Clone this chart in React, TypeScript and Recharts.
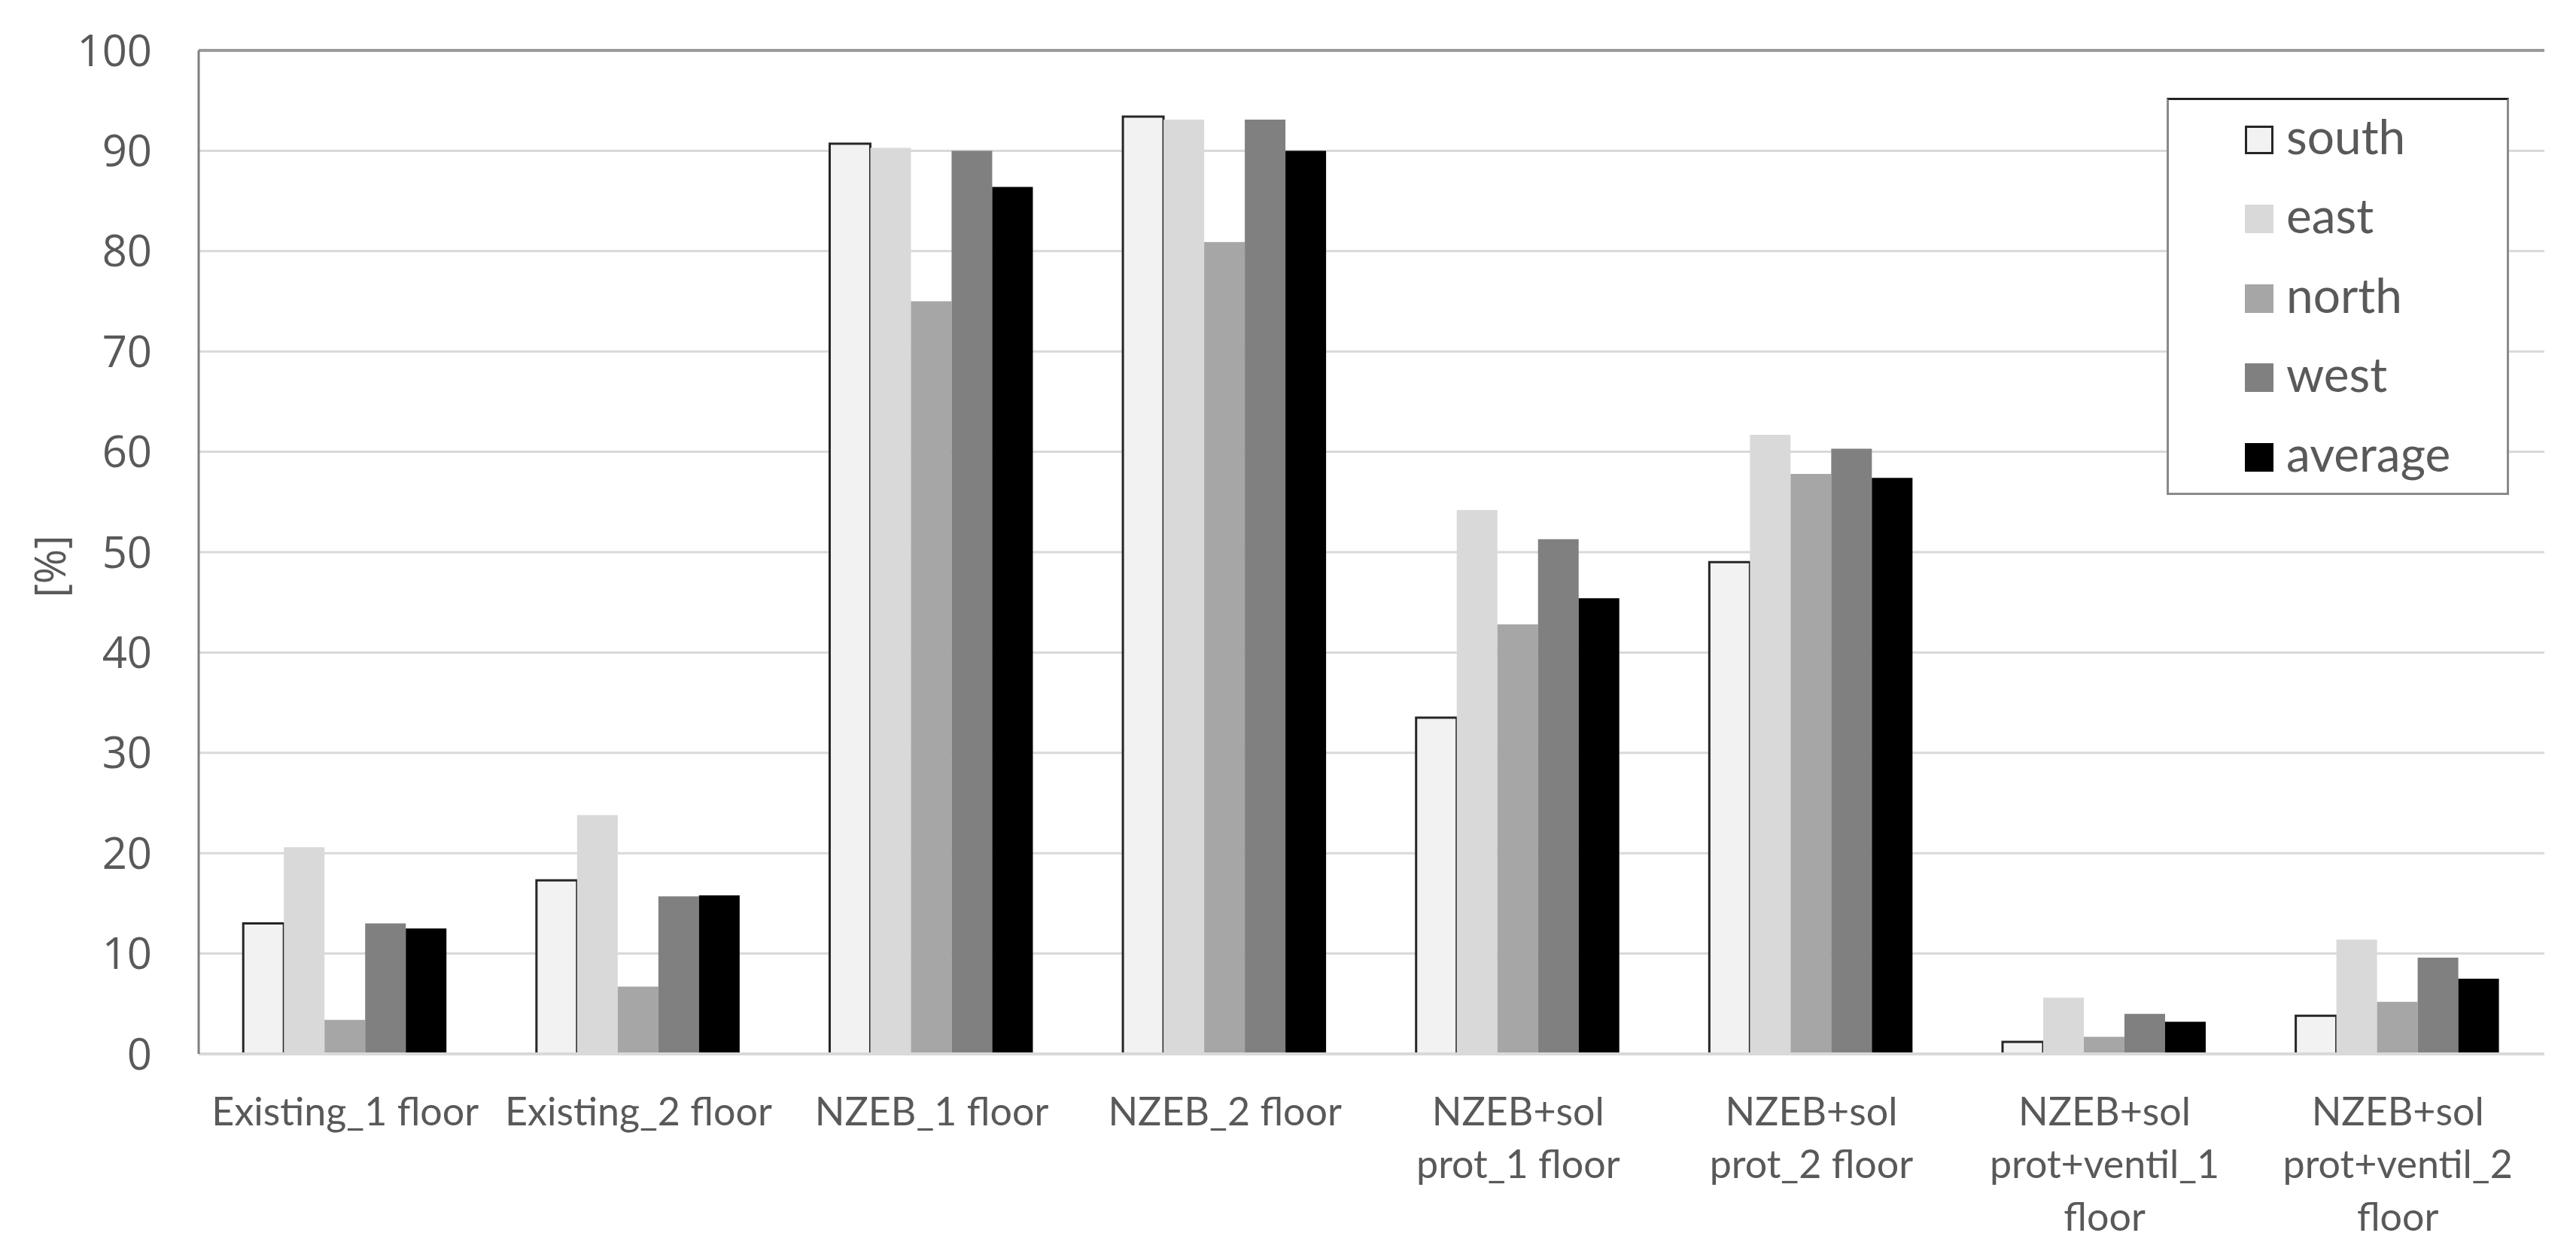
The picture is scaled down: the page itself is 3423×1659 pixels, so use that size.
import { BarChart, Bar, XAxis, YAxis, CartesianGrid, Legend, ReferenceLine } from "recharts"

const categories = [
  "Existing_1 floor",
  "Existing_2 floor",
  "NZEB_1 floor",
  "NZEB_2 floor",
  "NZEB+sol prot_1 floor",
  "NZEB+sol prot_2 floor",
  "NZEB+sol prot+ventil_1 floor",
  "NZEB+sol prot+ventil_2 floor",
]

// how each category label is broken over lines under the axis
const tickLines = [
  ["Existing_1 floor"],
  ["Existing_2 floor"],
  ["NZEB_1 floor"],
  ["NZEB_2 floor"],
  ["NZEB+sol", "prot_1 floor"],
  ["NZEB+sol", "prot_2 floor"],
  ["NZEB+sol", "prot+ventil_1", "floor"],
  ["NZEB+sol", "prot+ventil_2", "floor"],
]

const south = [13.0, 17.3, 90.7, 93.4, 33.5, 49.0, 1.2, 3.8]
const east = [20.6, 23.8, 90.3, 93.1, 54.2, 61.7, 5.6, 11.4]
const north = [3.4, 6.7, 75.0, 80.9, 42.8, 57.8, 1.7, 5.2]
const west = [13.0, 15.7, 90.0, 93.1, 51.3, 60.3, 4.0, 9.6]
const average = [12.5, 15.8, 86.4, 90.0, 45.4, 57.4, 3.2, 7.5]

const yTicks = [0, 10, 20, 30, 40, 50, 60, 70, 80, 90, 100]

const series = [
  { key: "south", fill: "#f2f2f2", stroke: "#262626" },
  { key: "east", fill: "#d9d9d9" },
  { key: "north", fill: "#a6a6a6" },
  { key: "west", fill: "#808080" },
  { key: "average", fill: "#000000" },
]

const chartData = categories.map((name, i) => ({
  name,
  south: south[i],
  east: east[i],
  north: north[i],
  west: west[i],
  average: average[i],
}))

const textGray = "#595959"

function CategoryTick({ x, y, payload }: any) {
  const lines = tickLines[categories.indexOf(payload.value)] ?? [payload.value]
  return (
    <text
      x={x}
      y={y}
      textAnchor="middle"
      fill={textGray}
      fontFamily="Lato, sans-serif"
      fontSize={52}
    >
      {lines.map((line, i) => (
        <tspan key={i} x={x} dy={i === 0 ? 95 : 70}>
          {line}
        </tspan>
      ))}
    </text>
  )
}

// legend keeps the series order (south first), not recharts' sorted payload
function LegendBox() {
  return (
    <div
      style={{
        boxSizing: "border-box",
        width: 455,
        height: 528,
        background: "#fff",
        border: "3px solid #8a8a8a",
        borderTop: "3px solid #222",
        paddingTop: 0,
        paddingLeft: 101,
      }}
    >
      {series.map((s) => (
        <div
          key={s.key}
          style={{ display: "flex", alignItems: "center", height: 105.5 }}
        >
          <span
            style={{
              boxSizing: "border-box",
              width: 38,
              height: 38,
              background: s.fill,
              border: s.stroke ? `3px solid ${s.stroke}` : "none",
              marginRight: 17,
            }}
          />
          <span
            style={{
              fontFamily: "Lato, sans-serif",
              fontSize: 64,
              color: textGray,
              lineHeight: 1,
              marginTop: -10,
            }}
          >
            {s.key}
          </span>
        </div>
      ))}
    </div>
  )
}

export default function App() {
  return (
    <div style={{ position: "absolute", left: 0, top: 0, background: "#fff" }}>
      <BarChart
        width={3423}
        height={1659}
        data={chartData}
        margin={{ top: 67, right: 42, bottom: 0, left: 0 }}
        barCategoryGap="15.2%"
        barGap={0}
      >
        <CartesianGrid stroke="#d9d9d9" strokeWidth={3} vertical={false} />
        <XAxis
          dataKey="name"
          height={258}
          interval={0}
          tick={<CategoryTick />}
          tickLine={false}
          tickSize={0}
          tickMargin={0}
          axisLine={{ stroke: "#d9d9d9", strokeWidth: 4 }}
        />
        <YAxis
          width={264}
          domain={[0, 100]}
          ticks={yTicks}
          interval={0}
          tickLine={false}
          tickSize={0}
          tickMargin={62}
          axisLine={{ stroke: "#7f7f7f", strokeWidth: 3 }}
          tick={{ fill: textGray, fontSize: 58, fontFamily: "'Open Sans', sans-serif" }}
          label={({ viewBox }: any) => (
            <text
              x={viewBox.x + 65}
              y={viewBox.y + viewBox.height / 2 + 19}
              transform={`rotate(-90, ${viewBox.x + 65}, ${viewBox.y + viewBox.height / 2 + 19})`}
              textAnchor="middle"
              dominantBaseline="central"
              fill={textGray}
              fontSize={56}
              fontFamily="'Open Sans', sans-serif"
            >
              [%]
            </text>
          )}
        />
        <YAxis
          yAxisId="frame"
          orientation="right"
          width={0}
          domain={[0, 100]}
          tick={false}
          tickLine={false}
          axisLine={{ stroke: "#111", strokeWidth: 3 }}
        />
        <ReferenceLine y={100} stroke="#9a9a9a" strokeWidth={4} />
        <Legend
          layout="horizontal"
          verticalAlign="middle"
          align="center"
          content={<LegendBox />}
          wrapperStyle={{ left: 2879, top: 130, width: 455, height: 528 }}
        />
        {series.map((s) => (
          <Bar
            key={s.key}
            dataKey={s.key}
            name={s.key}
            fill={s.fill}
            stroke={s.stroke}
            strokeWidth={s.stroke ? 3 : 0}
            isAnimationActive={false}
          />
        ))}
      </BarChart>
    </div>
  )
}
